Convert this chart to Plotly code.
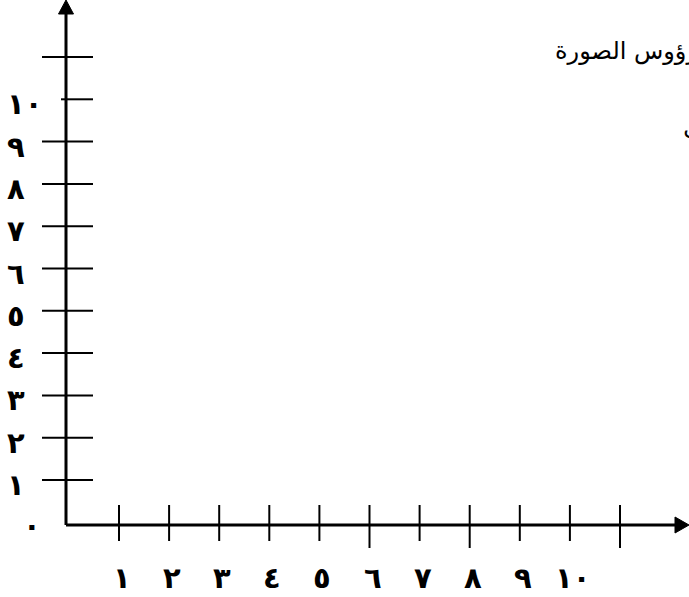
import plotly.graph_objects as go

# ---------------- data ----------------
x_tick_values = [1, 2, 3, 4, 5, 6, 7, 8, 9, 10, 11]
y_tick_values = [1, 2, 3, 4, 5, 6, 7, 8, 9, 10, 11]
x_labels = ["١", "٢", "٣", "٤", "٥", "٦", "٧", "٨", "٩", "١٠"]
y_labels = ["١", "٢", "٣", "٤", "٥", "٦", "٧", "٨", "٩", "١٠"]
origin_label = "٠"
heading_text = "ارسم رؤوس الصورة"
second_text = "ثم أكمل الشكل"

# ---------------- calibration (pixel geometry) ----------------
W, H = 689, 597
X_TICK1_PX, X_STEP_PX = 119.0, 50.1
Y_TICK1_PX, Y_STEP_PX = 480.0, 42.3


def fx(px):
    return 1 + (px - X_TICK1_PX) / X_STEP_PX


def fy(py):
    return 1 - (py - Y_TICK1_PX) / Y_STEP_PX


X0 = fx(66)   # y-axis position
Y0 = fy(525)  # x-axis position

fig = go.Figure()
fig.add_trace(go.Scatter(x=[X0], y=[Y0], mode="markers",
                         marker=dict(size=1, color="rgba(0,0,0,0)"),
                         hoverinfo="skip", showlegend=False))

shapes = []
# axis lines
shapes.append(dict(type="line", x0=X0, y0=Y0, x1=X0, y1=fy(12),
                   line=dict(color="black", width=3)))
shapes.append(dict(type="line", x0=X0, y0=Y0, x1=fx(678), y1=Y0,
                   line=dict(color="black", width=3)))
# arrow heads
shapes.append(dict(type="path",
                   path=f"M {fx(66)} {fy(0)} L {fx(58.5)} {fy(14)} L {fx(73.5)} {fy(14)} Z",
                   fillcolor="black", line=dict(color="black", width=1)))
shapes.append(dict(type="path",
                   path=f"M {fx(689)} {fy(525)} L {fx(675)} {fy(517)} L {fx(675)} {fy(533)} Z",
                   fillcolor="black", line=dict(color="black", width=1)))

# x tick marks
long_x = {6, 8, 11}
for v in x_tick_values:
    shapes.append(dict(type="line", x0=v, x1=v, y0=fy(505),
                       y1=fy(548) if v in long_x else fy(541),
                       line=dict(color="black", width=2)))
# y tick marks
for v in y_tick_values:
    left = fx(61) if v == 10 else fx(42)
    shapes.append(dict(type="line", x0=left, x1=fx(93), y0=v, y1=v,
                       line=dict(color="black", width=2)))

annotations = []
digit_font = dict(family="DejaVu Sans", size=29, color="black", weight="bold")
for i, lab in enumerate(x_labels):
    annotations.append(dict(x=x_tick_values[i] + 3 / X_STEP_PX, y=fy(578),
                            text=f"<b>{lab}</b>",
                            showarrow=False, xanchor="center", yanchor="middle",
                            font=digit_font))
for i, lab in enumerate(y_labels):
    annotations.append(dict(x=fx(5), y=y_tick_values[i] - 5 / Y_STEP_PX,
                            text=f"<b>{lab}</b>", showarrow=False,
                            xanchor="left", yanchor="middle", font=digit_font))
annotations.append(dict(x=fx(32), y=fy(526), text=f"<b>{origin_label}</b>",
                        showarrow=False, xanchor="center", yanchor="middle",
                        font=digit_font))
annotations.append(dict(x=fx(553), y=fy(51), text=heading_text, showarrow=False,
                        xanchor="left", yanchor="middle",
                        font=dict(family="DejaVu Sans", size=24, color="black")))
annotations.append(dict(x=fx(681), y=fy(125), text=second_text, showarrow=False,
                        xanchor="left", yanchor="middle",
                        font=dict(family="DejaVu Sans", size=24, color="black")))

fig.update_layout(
    width=W, height=H,
    margin=dict(l=0, r=0, t=0, b=0),
    paper_bgcolor="white", plot_bgcolor="white",
    xaxis=dict(range=[fx(0), fx(W)], visible=False, fixedrange=True),
    yaxis=dict(range=[fy(H), fy(0)], visible=False, fixedrange=True),
    shapes=shapes, annotations=annotations, showlegend=False,
)

fig.write_html("out.html", config={"displayModeBar": False},
               post_script="document.body.style.margin='0';")
